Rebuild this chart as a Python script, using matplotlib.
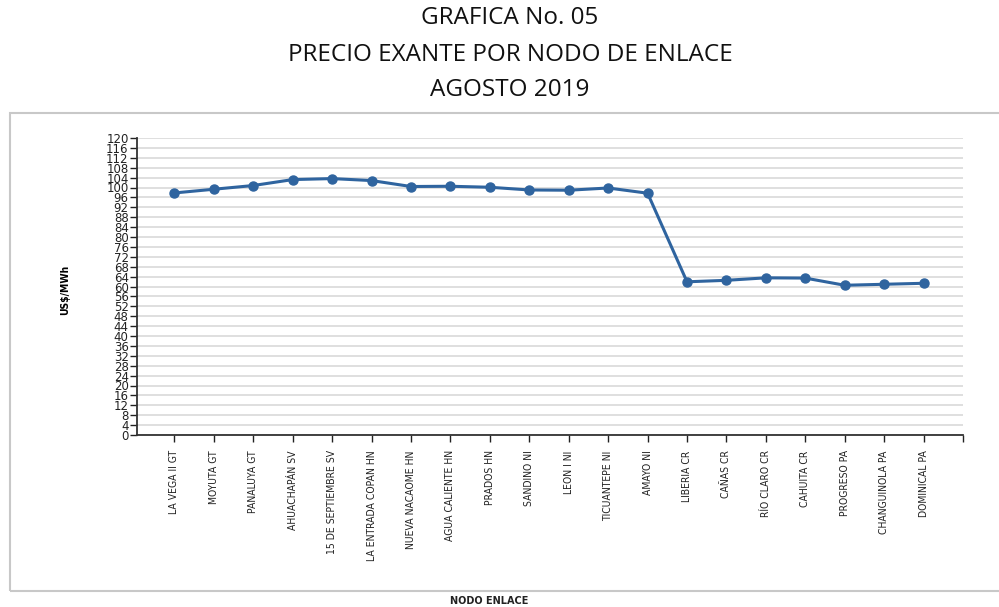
import matplotlib
matplotlib.use("Agg")
import matplotlib.pyplot as plt
from matplotlib.patches import Rectangle

nodes = ["LA VEGA II GT", "MOYUTA GT", "PANALUYA GT", "AHUACHAPÁN SV",
         "15 DE SEPTIEMBRE SV", "LA ENTRADA COPAN HN", "NUEVA NACAOME HN",
         "AGUA CALIENTE HN", "PRADOS HN", "SANDINO NI", "LEON I NI",
         "TICUANTEPE NI", "AMAYO NI", "LIBERIA CR", "CAÑAS CR", "RÍO CLARO CR",
         "CAHUITA CR", "PROGRESO PA", "CHANGUINOLA PA", "DOMINICAL PA"]
prices = [97.8, 99.3, 100.8, 103.2, 103.6, 102.8, 100.4, 100.5, 100.1, 99.0,
          98.9, 99.8, 97.7, 61.9, 62.5, 63.5, 63.4, 60.5, 60.9, 61.3]
yticks = list(range(0, 121, 4))
title_lines = ["GRAFICA No. 05", "PRECIO EXANTE POR NODO DE ENLACE", "AGOSTO 2019"]

fig = plt.figure(figsize=(9.99, 6.07), dpi=100)
W, H = 999, 607

# border box
fig.patches.append(Rectangle((9.5 / W, 1 - 590.5 / H), (1010 - 9.5) / W, (590.5 - 112.5) / H,
                             transform=fig.transFigure, fill=False, edgecolor="#c8c8c8",
                             linewidth=1.5, zorder=0))

for t, yc in zip(title_lines, [18, 55, 90]):
    fig.text(510 / W, 1 - yc / H, t, ha="center", va="center", fontsize=17.5,
             family="Open Sans", color="#111111")

ax = fig.add_axes([137 / W, 1 - 435 / H, (963 - 137) / W, (435 - 138) / H])
x = list(range(len(nodes)))
ax.plot(x, prices, color="#2f649f", linewidth=2.2, marker="o", markersize=6.5,
        markerfacecolor="#2f649f", markeredgecolor="#2f649f", zorder=3)
ax.set_xlim(-0.95, 20)
ax.set_ylim(0, 120)
ax.set_yticks(yticks)
ax.set_yticklabels([str(v) for v in yticks], fontsize=8.5, family="DejaVu Sans")
ax.tick_params(axis="y", length=5, width=1, pad=1, colors="#222222")
ax.set_xticks(x)
ax.set_xticklabels(nodes, rotation=90, fontsize=7.5, family="DejaVu Sans",
                   fontstretch="condensed")
ax.set_xticks([20], minor=True)
ax.tick_params(axis="x", which="both", length=5, width=1, pad=6, colors="#222222")
ax.grid(axis="y", color="#d9d9d9", linewidth=1.2)
ax.set_axisbelow(True)
for s in ["top", "right"]:
    ax.spines[s].set_visible(False)
for s in ["left", "bottom"]:
    ax.spines[s].set_color("#333333")
    ax.spines[s].set_linewidth(1.3)

fig.text(65 / W, 1 - 290 / H, "US$/MWh", rotation=90, ha="center", va="center",
         fontsize=7.5, fontweight="bold", family="DejaVu Sans", fontstretch="condensed")
fig.text(489 / W, 1 - 601 / H, "NODO ENLACE", ha="center", va="center",
         fontsize=7, fontweight="bold", family="DejaVu Sans", color="#222222")

fig.savefig("out.png", dpi=100)
